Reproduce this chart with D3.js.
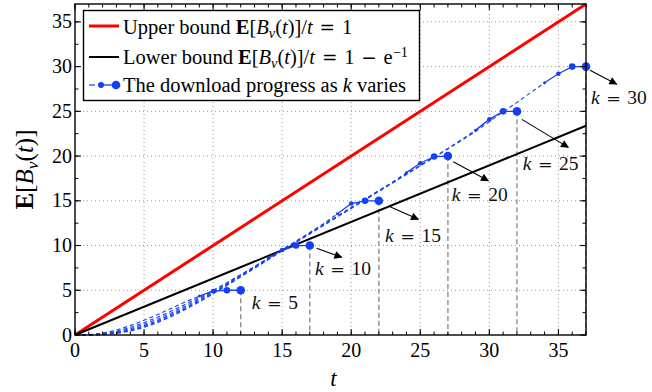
<!DOCTYPE html>
<html>
<head>
<meta charset="utf-8">
<script src="https://cdn.jsdelivr.net/npm/d3@7/dist/d3.min.js"></script>
<style>
  body { margin: 0; background: #fff; }
  svg { display: block; font-family: "Liberation Serif", "DejaVu Serif", serif; }
</style>
</head>
<body>
<svg id="chart" width="652" height="392"></svg>
<script>
// ---- data ----
const kValues = [5, 10, 15, 20, 25, 30];

// expected downloaded blocks at t = 0, 1, 2, ... for each k
const progress5  = [0, 0.04, 0.2, 0.55, 1.05, 1.65, 2.3, 3.0, 3.7, 4.35, 4.9, 5.0, 5.0];
const progress10 = [0, 0.03, 0.15, 0.42, 0.85, 1.38, 2.0, 2.7, 3.45, 4.2, 5.0, 5.85, 6.75, 7.65, 8.6, 9.5, 10.0, 10.0];
const progress15 = [0, 0.02, 0.11, 0.33, 0.7, 1.2, 1.8, 2.5, 3.25, 4.05, 4.9, 5.8, 6.7, 7.65, 8.6, 9.55, 10.5, 11.45, 12.45, 13.55, 14.7, 15.0, 15.0];
const progress20 = [0, 0.01, 0.08, 0.26, 0.58, 1.05, 1.63, 2.32, 3.08, 3.9, 4.78, 5.68, 6.62, 7.58, 8.55, 9.5, 10.45, 11.4, 12.35, 13.3, 14.25, 15.2, 16.15, 17.1, 18.15, 19.2, 19.95, 20.0];
const progress25 = [0, 0.01, 0.06, 0.21, 0.5, 0.93, 1.5, 2.2, 2.96, 3.8, 4.68, 5.6, 6.55, 7.5, 8.47, 9.43, 10.4, 11.35, 12.3, 13.25, 14.2, 15.15, 16.1, 17.05, 18.0, 18.95, 19.9, 20.85, 21.85, 22.9, 24.1, 25.0, 25.0];
const progress30 = [0, 0.0, 0.04, 0.17, 0.44, 0.85, 1.4, 2.08, 2.85, 3.7, 4.6, 5.53, 6.5, 7.46, 8.43, 9.4, 10.35, 11.3, 12.25, 13.2, 14.15, 15.1, 16.05, 17.0, 17.95, 18.9, 19.85, 20.8, 21.75, 22.75, 23.85, 24.95, 26.0, 27.1, 28.2, 29.2, 30.0, 30.0];
const progress = [progress5, progress10, progress15, progress20, progress25, progress30];

// annotation arrows and labels (data units)
const arrowFrom = [null, [17.5, 9.69], [22.81, 14.34], [27.39, 19.36], [32.35, 24.1], [37.29, 29.6]];
const arrowTo   = [null, [19.31, 8.68], [24.86, 12.93], [29.93, 17.24], [35.72, 20.97], [39.22, 28.04]];
const labelPos  = [[12.8, 2.9], [17.38, 6.7], [22.45, 10.4], [27.28, 15.0], [32.42, 18.5], [37.36, 25.8]];

const xTicks = [0, 5, 10, 15, 20, 25, 30, 35];
const yTicks = [0, 5, 10, 15, 20, 25, 30, 35];
const tMax = 37;
const lowerSlope = 1 - Math.exp(-1);

// ---- layout ----
const margin = {left: 75, right: 66, top: 4, bottom: 57};
const W = 652, H = 392;
const x = d3.scaleLinear().domain([0, tMax]).range([margin.left, W - margin.right]);
const y = d3.scaleLinear().domain([0, 37]).range([H - margin.bottom, margin.top]);

const blue = "#1440f5";
const SP = "\u2004";
const svg = d3.select("#chart");

// arrow head
svg.append("defs").append("marker")
  .attr("id", "head")
  .attr("viewBox", "0 0 10 10")
  .attr("refX", 9).attr("refY", 5)
  .attr("markerWidth", 11).attr("markerHeight", 8)
  .attr("markerUnits", "userSpaceOnUse")
  .attr("orient", "auto")
  .append("path").attr("d", "M0,0L10,5L0,10Z").attr("fill", "#000");

// grid
const grid = svg.append("g");
grid.selectAll(".gx").data(xTicks.slice(1)).enter().append("line")
  .attr("x1", d => x(d)).attr("x2", d => x(d))
  .attr("y1", y(0)).attr("y2", y(37))
  .attr("stroke", "#999").attr("stroke-width", 1).attr("stroke-dasharray", "1,3");
grid.selectAll(".gy").data(yTicks.slice(1)).enter().append("line")
  .attr("y1", d => y(d)).attr("y2", d => y(d))
  .attr("x1", x(0)).attr("x2", x(tMax))
  .attr("stroke", "#999").attr("stroke-width", 1).attr("stroke-dasharray", "1,3");

// vertical dashed drop lines at the end of each curve
svg.selectAll(".drop").data(kValues).enter().append("line")
  .attr("x1", d => x(d + 7)).attr("x2", d => x(d + 7))
  .attr("y1", d => y(d)).attr("y2", y(0))
  .attr("stroke", "#888").attr("stroke-width", 1.3).attr("stroke-dasharray", "5,3");

// bounds
svg.append("line")
  .attr("x1", x(0)).attr("y1", y(0)).attr("x2", x(tMax)).attr("y2", y(tMax))
  .attr("stroke", "#f00").attr("stroke-width", 3);
svg.append("line")
  .attr("x1", x(0)).attr("y1", y(0)).attr("x2", x(tMax)).attr("y2", y(tMax * lowerSlope))
  .attr("stroke", "#000").attr("stroke-width", 2);

// download progress curves
const line = d3.line().x(d => x(d[0])).y(d => y(d[1]));
const sizes = [1.5, 2.3, 3.3, 4.3];
progress.forEach((vals, ci) => {
  const pts = vals.map((v, i) => [i, v]);
  const n = pts.length;
  const g = svg.append("g");
  g.append("path").attr("d", line(pts.slice(0, n - 3)))
    .attr("fill", "none").attr("stroke", blue).attr("stroke-width", 1.1)
    .attr("stroke-dasharray", "4,3");
  g.append("path").attr("d", line(pts.slice(n - 4)))
    .attr("fill", "none").attr("stroke", blue).attr("stroke-width", 1.3);
  g.selectAll("circle").data(pts.slice(n - 4)).enter().append("circle")
    .attr("cx", d => x(d[0])).attr("cy", d => y(d[1]))
    .attr("r", (d, i) => sizes[i]).attr("fill", blue);
});

// helper for math-ish text
function richText(sel, parts) {
  parts.forEach(p => {
    const ts = sel.append("tspan").text(p.t);
    if (p.i) ts.attr("font-style", "italic");
    if (p.b) ts.attr("font-weight", "bold");
    if (p.op) ts.attr("font-family", "DejaVu Serif").attr("font-size", "0.9em");
    if (p.sub) ts.attr("font-size", "0.7em").attr("dy", "0.3em");
    if (p.sup) ts.attr("font-size", "0.7em").attr("dy", "-0.45em");
    if (p.back) ts.attr("dy", p.back);
  });
  return sel;
}

// annotations
kValues.forEach((k, i) => {
  if (arrowFrom[i]) {
    svg.append("line")
      .attr("x1", x(arrowFrom[i][0])).attr("y1", y(arrowFrom[i][1]))
      .attr("x2", x(arrowTo[i][0])).attr("y2", y(arrowTo[i][1]))
      .attr("stroke", "#000").attr("stroke-width", 1.1)
      .attr("marker-end", "url(#head)");
  }
  const t = svg.append("text")
    .attr("x", x(labelPos[i][0])).attr("y", y(labelPos[i][1]))
    .attr("font-size", 19.5).attr("fill", "#111");
  richText(t, [{t: "k" + SP, i: true}, {t: "=", op: true}, {t: SP + k}]);
});

// frame + ticks
const axes = svg.append("g");
axes.append("rect")
  .attr("x", x(0)).attr("y", y(37))
  .attr("width", x(tMax) - x(0)).attr("height", y(0) - y(37))
  .attr("fill", "none").attr("stroke", "#000").attr("stroke-width", 1.4);

const xMinor = d3.range(0, 38, 1);
const yMinor = d3.range(0, 37.1, 2.5);
function tickSet(vals, isX, len) {
  vals.forEach(v => {
    if (isX) {
      axes.append("line").attr("x1", x(v)).attr("x2", x(v)).attr("y1", y(0)).attr("y2", y(0) - len).attr("stroke", "#000");
      axes.append("line").attr("x1", x(v)).attr("x2", x(v)).attr("y1", y(37)).attr("y2", y(37) + len).attr("stroke", "#000");
    } else {
      axes.append("line").attr("y1", y(v)).attr("y2", y(v)).attr("x1", x(0)).attr("x2", x(0) + len).attr("stroke", "#000");
      axes.append("line").attr("y1", y(v)).attr("y2", y(v)).attr("x1", x(tMax)).attr("x2", x(tMax) - len).attr("stroke", "#000");
    }
  });
}
tickSet(xMinor, true, 3.5);
tickSet(xTicks, true, 6);
tickSet(yMinor, false, 3.5);
tickSet(yTicks, false, 6);

axes.selectAll(".xl").data(xTicks).enter().append("text")
  .attr("x", d => x(d)).attr("y", y(0) + 22)
  .attr("text-anchor", "middle").attr("font-size", 20).text(d => d);
axes.selectAll(".yl").data(yTicks).enter().append("text")
  .attr("x", x(0) - 3).attr("y", d => y(d) + 6.5)
  .attr("text-anchor", "end").attr("font-size", 20).text(d => d);

// axis titles
svg.append("text").attr("x", (x(0) + x(tMax)) / 2 + 3).attr("y", 386)
  .attr("text-anchor", "middle").attr("font-size", 23).attr("font-style", "italic").text("t");
const yl = svg.append("text")
  .attr("transform", `translate(33,${(y(0) + y(37)) / 2}) rotate(-90)`)
  .attr("text-anchor", "middle").attr("font-size", 25);
richText(yl, [{t: "E", b: true}, {t: "["}, {t: "B", i: true}, {t: "v", i: true, sub: true},
  {t: "(", back: "-0.21em"}, {t: "t", i: true}, {t: ")]"}]);

// legend
const lg = svg.append("g");
lg.append("rect").attr("x", 83.5).attr("y", 10.5).attr("width", 336).attr("height", 90)
  .attr("fill", "#fff").attr("stroke", "#000").attr("stroke-width", 1.4);
lg.append("line").attr("x1", 89).attr("x2", 119).attr("y1", 26).attr("y2", 26)
  .attr("stroke", "#f00").attr("stroke-width", 3);
lg.append("line").attr("x1", 89).attr("x2", 119).attr("y1", 57).attr("y2", 57)
  .attr("stroke", "#000").attr("stroke-width", 2);
lg.append("line").attr("x1", 89).attr("x2", 95).attr("y1", 85).attr("y2", 85)
  .attr("stroke", blue).attr("stroke-width", 1.2);
lg.append("line").attr("x1", 98).attr("x2", 116).attr("y1", 85).attr("y2", 85)
  .attr("stroke", blue).attr("stroke-width", 1.3);
lg.append("circle").attr("cx", 101).attr("cy", 85).attr("r", 3).attr("fill", blue);
lg.append("circle").attr("cx", 116).attr("cy", 85).attr("r", 4.3).attr("fill", blue);

const legendFont = 20.5;
const r1 = lg.append("text").attr("x", 123).attr("y", 33.5).attr("font-size", legendFont);
richText(r1, [{t: "Upper bound "}, {t: "E", b: true}, {t: "["}, {t: "B", i: true}, {t: "v", i: true, sub: true},
  {t: "(", back: "-0.21em"}, {t: "t", i: true}, {t: ")]/"}, {t: "t" + SP, i: true}, {t: "=", op: true}, {t: SP + "1"}]);
const r2 = lg.append("text").attr("x", 123).attr("y", 63.5).attr("font-size", legendFont);
richText(r2, [{t: "Lower bound "}, {t: "E", b: true}, {t: "["}, {t: "B", i: true}, {t: "v", i: true, sub: true},
  {t: "(", back: "-0.21em"}, {t: "t", i: true}, {t: ")]/"}, {t: "t" + SP, i: true}, {t: "=", op: true},
  {t: SP + "1" + SP}, {t: "−", op: true}, {t: SP + "e"}, {t: "−1", sup: true}]);
const r3 = lg.append("text").attr("x", 123).attr("y", 91.7).attr("font-size", legendFont);
richText(r3, [{t: "The download progress as "}, {t: "k", i: true}, {t: " varies"}]);
</script>
</body>
</html>
